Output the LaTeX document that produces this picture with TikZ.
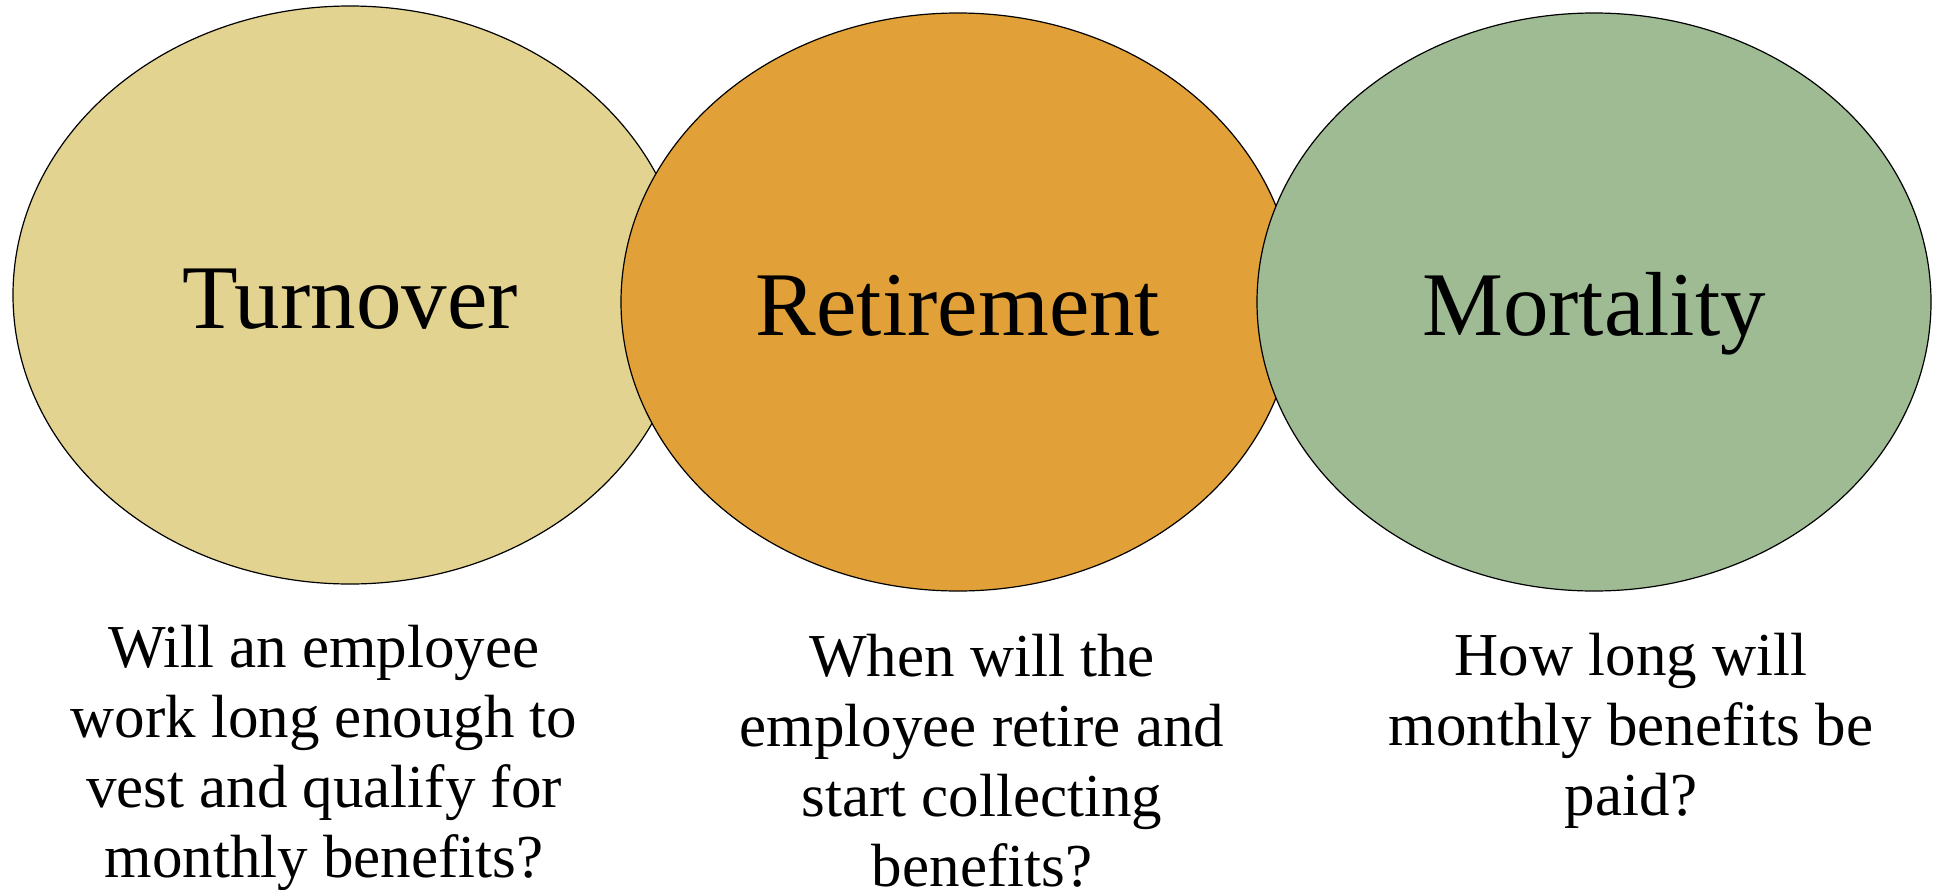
\documentclass[tikz,border=0pt]{standalone}
\usepackage{fontspec}
\setmainfont{Liberation Serif}
\usetikzlibrary{shapes.geometric}

\definecolor{sand}{RGB}{227,211,144}
\definecolor{amber}{RGB}{225,160,56}
\definecolor{sage}{RGB}{159,187,148}

\tikzset{
  factor/.style={ellipse, draw=black, line width=1.2pt, inner sep=0pt,
    minimum width=674pt, minimum height=578pt,
    font=\fontsize{91}{100}\selectfont, text height=66pt, text depth=0pt},
  question/.style={anchor=base, inner sep=0pt,
    font=\fontsize{61}{70}\selectfont}
}

\newcommand{\qtext}[1]{\parbox[t]{700pt}{\centering #1}}

\begin{document}
\begin{tikzpicture}[x=1pt, y=-1pt]
  \useasboundingbox (0,0) rectangle (1938,889);

  % the three overlapping factors, left to right
  \node[factor, fill=sand]  (turnover)   at (350,295)  {Turnover};
  \node[factor, fill=amber] (retirement) at (958,302)  {Retirement};
  \node[factor, fill=sage]  (mortality)  at (1594,302) {Mortality};

  % questions beneath each factor
  \node[question] (qturnover) at (324,667)
    {\qtext{Will an employee\\ work long enough to\\ vest and qualify for\\ monthly benefits?}};
  \node[question] (qretirement) at (982,676)
    {\qtext{When will the\\ employee retire and\\ start collecting\\ benefits?}};
  \node[question] (qmortality) at (1631,675)
    {\qtext{How long will\\ monthly benefits be\\ paid?}};
\end{tikzpicture}
\end{document}
